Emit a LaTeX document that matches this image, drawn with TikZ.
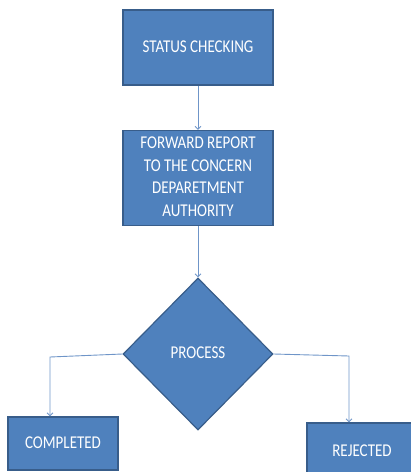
\documentclass[tikz,border=0pt]{standalone}
\usepackage{fontspec}
\usepackage{graphicx}
\setmainfont{Carlito}
\usetikzlibrary{positioning}
\usetikzlibrary{shapes.geometric}
\usetikzlibrary{arrows.meta}
\definecolor{boxblue}{HTML}{4F81BD}
\definecolor{edgeblue}{HTML}{385D8A}
\definecolor{lineblue}{HTML}{6F95C8}
\newcommand{\tallt}[1]{\scalebox{1}[1.2]{\begin{tabular}{@{}c@{}}#1\end{tabular}}}

\begin{document}
\begin{tikzpicture}[x=1pt, y=-1pt,
  stepbox/.style = {draw=edgeblue, line width=1.2pt, fill=boxblue, text=white,
    align=center, inner sep=0pt, font=\fontsize{15}{19}\selectfont},
  decide/.style = {diamond, draw=edgeblue, line width=1.2pt, fill=boxblue, text=white,
    inner sep=0pt, minimum width=150pt, minimum height=152pt, font=\fontsize{15}{19}\selectfont},
  flow/.style = {draw=lineblue, line width=0.9pt, -{Straight Barb[length=3pt,width=6pt]}}]
\useasboundingbox (0,0) rectangle (411,472);
\clip (0,0) rectangle (411,472);
\node[stepbox, minimum width=150pt, minimum height=75pt] (check) at (198,47.5) {\tallt{STATUS CHECKING}};
\node[stepbox, minimum width=150pt, minimum height=95pt] (fwd) at (198,178) {\tallt{FORWARD REPORT\\TO THE CONCERN\\DEPARETMENT\\AUTHORITY}};
\node[decide] (proc) at (198,354) {\tallt{PROCESS}};
\node[stepbox, minimum width=110pt, minimum height=53pt] (done) at (63,443.5) {\tallt{COMPLETED}};
\node[stepbox, minimum width=110pt, minimum height=58pt] (rej) at (362,452) {\tallt{REJECTED}};
\coordinate (lbend) at (50,357);
\coordinate (rbend) at (349,356);
\draw[flow] (check) -- (fwd);
\draw[flow] (fwd) -- (proc);
\draw[flow] (proc.west) -- (lbend) -- (lbend |- done.north);
\draw[flow] (proc.east) -- (rbend) -- (rbend |- rej.north);
\end{tikzpicture}
\end{document}
